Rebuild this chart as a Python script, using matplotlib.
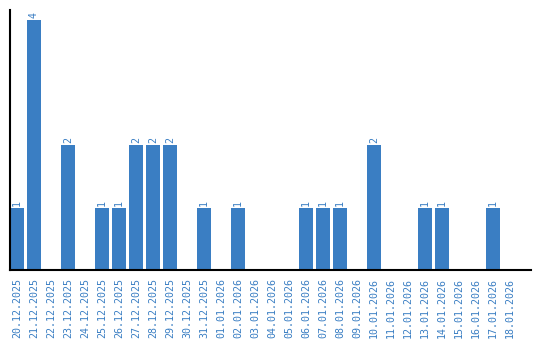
import matplotlib
matplotlib.use('Agg')
import matplotlib.pyplot as plt
import numpy as np

dates = ['20.12.2025', '21.12.2025', '22.12.2025', '23.12.2025', '24.12.2025',
         '25.12.2025', '26.12.2025', '27.12.2025', '28.12.2025', '29.12.2025',
         '30.12.2025', '31.12.2025', '01.01.2026', '02.01.2026', '03.01.2026',
         '04.01.2026', '05.01.2026', '06.01.2026', '07.01.2026', '08.01.2026',
         '09.01.2026', '10.01.2026', '11.01.2026', '12.01.2026', '13.01.2026',
         '14.01.2026', '15.01.2026', '16.01.2026', '17.01.2026', '18.01.2026']
counts = [1, 4, 0, 2, 0, 1, 1, 2, 2, 2, 0, 1, 0, 1, 0,
          0, 0, 1, 1, 1, 0, 2, 0, 0, 1, 1, 0, 0, 1, 0]

blue = '#3a7ec3'

fig = plt.figure(figsize=(5.4, 3.4), dpi=100)
ax = fig.add_axes([10 / 540, 70 / 340, 521 / 540, 260 / 340])

x = np.arange(len(dates))
ax.bar(x, counts, width=14 / 17, color=blue)

# подписи значений над столбцами
for xi, c in zip(x, counts):
    if c > 0:
        ax.text(xi, c + 0.03, str(c), rotation=90, ha='center', va='bottom',
                color=blue, fontsize=7.2, family='DejaVu Sans Mono')

ax.set_xlim(-0.41, 30.24)
ax.set_ylim(0, 4.16)
ax.set_xticks(x)
ax.set_xticklabels(dates, rotation=90, color=blue, fontsize=7.2,
                   family='DejaVu Sans Mono')
ax.tick_params(axis='x', length=0, pad=6)
ax.set_yticks([])
for s in ['top', 'right']:
    ax.spines[s].set_visible(False)
for s in ['left', 'bottom']:
    ax.spines[s].set_linewidth(1.5)
    ax.spines[s].set_color('black')

plt.savefig('out.png', dpi=100)
